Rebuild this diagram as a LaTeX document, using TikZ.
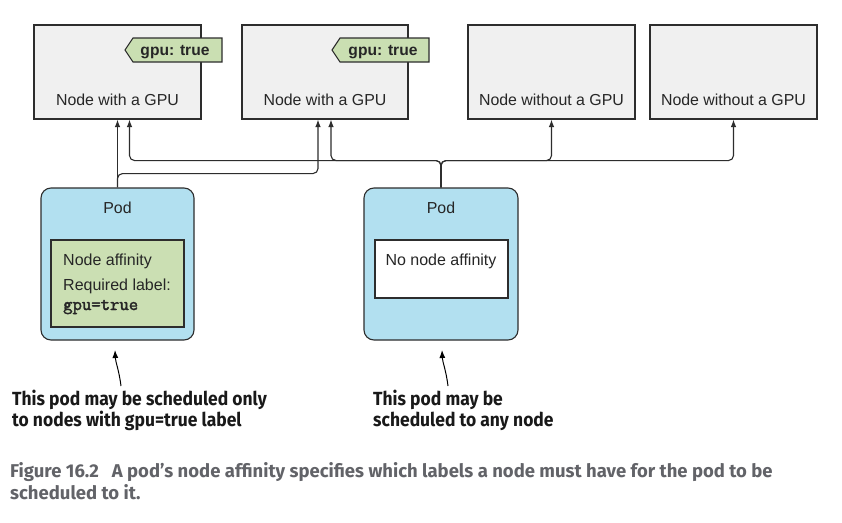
\documentclass[tikz,border=0pt]{standalone}
\usepackage{fontspec}
\setmainfont{Liberation Sans}
\newfontfamily\annfont[FakeStretch=0.92]{Fira Sans}
\newfontfamily\capfont{Fira Sans}
\newfontfamily\codefont[FakeBold=2.2]{Latin Modern Mono}
\usetikzlibrary{arrows.meta,calc}
\definecolor{nodegray}{RGB}{240,240,240}
\definecolor{taggreen}{RGB}{202,223,178}
\definecolor{podblue}{RGB}{178,224,240}
\definecolor{boxgreen}{RGB}{203,223,179}
\definecolor{linedark}{RGB}{45,45,45}
\definecolor{capgray}{RGB}{98,99,104}
\tikzset{
  knode/.style={draw=linedark, fill=nodegray, line width=1.1pt, inner sep=0, minimum height=94},
  ktext/.style={font=\fontsize{15.9}{19}\selectfont, inner sep=0, anchor=base, text=black!85},
  tagshape/.style={draw=linedark, fill=taggreen, line width=1.1pt},
  tagtext/.style={font=\fontsize{15.6}{19}\selectfont\bfseries, inner sep=0, anchor=base, text=black!85},
  podbox/.style={draw=linedark, fill=podblue, line width=1.1pt, rounded corners=10pt, inner sep=0, minimum height=152},
  affbox/.style={draw=linedark, line width=1.1pt, inner sep=0},
  lefttext/.style={font=\fontsize{16}{19}\selectfont, inner sep=0, anchor=base west, text=black!85},
  monotext/.style={font=\codefont\fontsize{18.2}{19}\selectfont, inner sep=0, anchor=base west, text=black!85},
  conn/.style={draw=linedark, line width=1.1pt, -{Latex[length=7.5pt,width=5.5pt]}, rounded corners=5pt},
  annarrow/.style={draw=black, line width=1pt, -{Latex[length=8pt,width=6pt]}},
  anntext/.style={font=\annfont\bfseries\fontsize{19}{21}\selectfont, inner sep=0, anchor=base west, text=black!90},
  captext/.style={font=\capfont\bfseries\fontsize{18.5}{22}\selectfont, inner sep=0, anchor=base west, text=capgray},
}
\begin{document}
\begin{tikzpicture}[x=1pt, y=-1pt]
\useasboundingbox[fill=white] (0,0) rectangle (842,522);

% cluster nodes
\node[knode, minimum width=167] (n1) at (117.5,72) {};
\node[knode, minimum width=166] (n2) at (325,72) {};
\node[knode, minimum width=167] (n3) at (551.5,72) {};
\node[knode, minimum width=167] (n4) at (733.5,72) {};
\node[ktext] (n1l) at (117.5,105) {Node with a GPU};
\node[ktext] (n2l) at (325,105) {Node with a GPU};
\node[ktext] (n3l) at (551.5,105) {Node without a GPU};
\node[ktext] (n4l) at (733.5,105) {Node without a GPU};

% labels on nodes
\draw[tagshape] (125,50) -- (133,38) -- (222,38) -- (222,62) -- (133,62) -- cycle;
\node[tagtext] (t1) at (175,55) {gpu: true};
\draw[tagshape] (332,50) -- (340,38) -- (429,38) -- (429,62) -- (340,62) -- cycle;
\node[tagtext] (t2) at (383,55) {gpu: true};

% pods
\node[podbox, minimum width=153] (pod1) at (117.5,264) {};
\node[podbox, minimum width=154] (pod2) at (441,264) {};
\node[ktext] (pod1l) at (117.5,213) {Pod};
\node[ktext] (pod2l) at (441,213) {Pod};

\node[affbox, fill=boxgreen, minimum width=133, minimum height=87] (aff1) at (117.5,283.5) {};
\node[lefttext] (aff1a) at (63,265) {Node affinity};
\node[lefttext] (aff1b) at (63,290.5) {Required label:};
\node[monotext] (aff1c) at (63,310) {gpu=true};

\node[affbox, fill=white, minimum width=133, minimum height=58] (aff2) at (441.5,269) {};
\node[ktext, font=\fontsize{16}{19}\selectfont] (aff2a) at (441,265) {No node affinity};

% connectors
\draw[conn] (pod1.north) -- (n1.south);
\draw[conn] (pod1.north) |- ($(n2.south)+(-7,54)$) -- ([xshift=-7pt]n2.south);
\draw[conn] (pod2.north) |- ($(n1.south)+(12,41)$) -- ([xshift=12pt]n1.south);
\draw[conn] (pod2.north) |- ($(n2.south)+(6,41)$) -- ([xshift=6pt]n2.south);
\draw[conn] (pod2.north) |- ($(n3.south)+(0,41)$) -- (n3.south);
\draw[conn] (pod2.north) |- ($(n4.south)+(0,41)$) -- (n4.south);

% annotations
\node[anntext] (ann1a) at (12,405) {This pod may be scheduled only};
\node[anntext] (ann1b) at (12,426) {to nodes with gpu=true label};
\node[anntext] (ann2a) at (373,405) {This pod may be};
\node[anntext] (ann2b) at (373,426) {scheduled to any node};
\coordinate (tip1) at (115,350);
\coordinate (tail1) at (121,386);
\coordinate (tip2) at (442,350);
\coordinate (tail2) at (448,386);
\draw[annarrow] (tail1) .. controls (119,370) and (115.5,362) .. (tip1);
\draw[annarrow] (tail2) .. controls (446,370) and (442.5,362) .. (tip2);

% caption
\node[captext] (cap1) at (10,477) {Figure 16.2\hspace*{13pt}A pod’s node affinity specifies which labels a node must have for the pod to be};
\node[captext] (cap2) at (10,499) {scheduled to it.};
\end{tikzpicture}
\end{document}
